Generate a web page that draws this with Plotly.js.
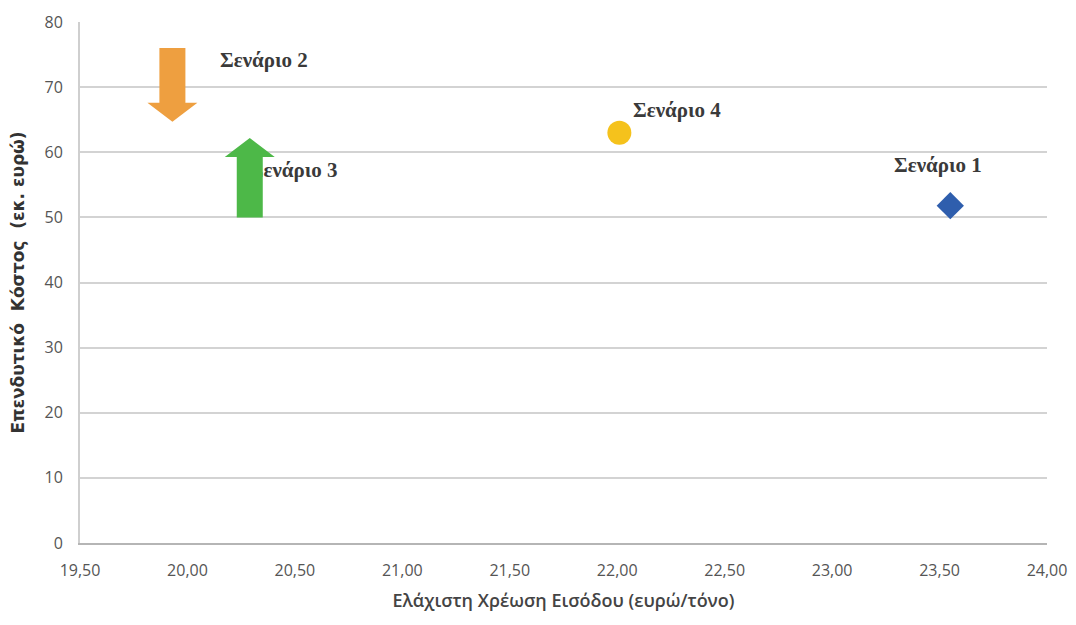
<!DOCTYPE html>
<html>
<head>
<meta charset="utf-8">
<script src="https://cdn.plot.ly/plotly-3.0.1.min.js"></script>
<style>html,body{margin:0;padding:0;background:#fff;}#chart{width:1076px;height:625px;}</style>
</head>
<body>
<div id="chart"></div>
<script>
// ---- data ----
const scenarios = ['Σενάριο 1', 'Σενάριο 2', 'Σενάριο 3', 'Σενάριο 4'];
const charge = [23.55, 19.93, 20.29, 22.01];   // Ελάχιστη Χρέωση Εισόδου (ευρώ/τόνο)
const cost = [51.8, 70.0, 56.0, 63.0];          // Επενδυτικό Κόστος (εκ. ευρώ)
// arrow-shaped markers (scenarios 2 and 3): start and tip of arrow
const arrowScenario = ['Σενάριο 2', 'Σενάριο 3'];
const arrowCharge = [19.93, 20.29];
const arrowStart = [76.0, 50.0];
const arrowTip = [64.7, 62.2];
const xTickVals = [19.5, 20, 20.5, 21, 21.5, 22, 22.5, 23, 23.5, 24];
const yTickVals = [0, 10, 20, 30, 40, 50, 60, 70, 80];

// ---- layout constants ----
const W = 1076, H = 625;
const M = {l: 80, r: 29, t: 22, b: 82};
const xRange = [19.5, 24], yRange = [0, 80];
const pxX = (xRange[1] - xRange[0]) / (W - M.l - M.r);
const pxY = (yRange[1] - yRange[0]) / (H - M.t - M.b);

const arrowColors = ['#EE9F40', '#4DB848'];
const shaftHalf = 13, headHalf = 25, headLen = 19; // px

function arrowPolygon(x, y0, y1) {
  const dir = Math.sign(y1 - y0);
  const s = shaftHalf * pxX, h = headHalf * pxX, hl = headLen * pxY * dir;
  const yb = y1 - hl;
  return {
    x: [x - s, x + s, x + s, x + h, x, x - h, x - s, x - s],
    y: [y0, y0, yb, yb, y1, yb, yb, y0]
  };
}

const idx = n => scenarios.indexOf(n);
const labelFont = {family: 'Liberation Serif, serif', size: 21, color: '#3a3a3a', weight: 'bold'};

const traces = [];
// label of scenario 3 drawn beneath its arrow
traces.push({
  type: 'scatter', mode: 'text',
  x: [charge[idx('Σενάριο 3')]], y: [cost[idx('Σενάριο 3')] + 1],
  text: ['<b>Σενάριο 3</b>'], textposition: 'middle right',
  textfont: labelFont, hoverinfo: 'skip', showlegend: false, cliponaxis: false
});
// arrows
arrowScenario.forEach((n, i) => {
  const p = arrowPolygon(arrowCharge[i], arrowStart[i], arrowTip[i]);
  traces.push({
    type: 'scatter', mode: 'lines', x: p.x, y: p.y, fill: 'toself',
    fillcolor: arrowColors[i], line: {width: 0, color: arrowColors[i]},
    name: n, showlegend: false, hoverinfo: 'name'
  });
});
// scenario 1: diamond
traces.push({
  type: 'scatter', mode: 'markers',
  x: [charge[idx('Σενάριο 1')]], y: [cost[idx('Σενάριο 1')]],
  marker: {symbol: 'diamond', size: 21, color: '#2F5EAD', line: {width: 0}},
  name: 'Σενάριο 1', showlegend: false
});
// scenario 4: circle
traces.push({
  type: 'scatter', mode: 'markers',
  x: [charge[idx('Σενάριο 4')]], y: [cost[idx('Σενάριο 4')]],
  marker: {symbol: 'circle', size: 24, color: '#F5C21C', line: {width: 0}},
  name: 'Σενάριο 4', showlegend: false
});

const annotations = [
  {n: 'Σενάριο 1', xanchor: 'center', xshift: -12, yshift: 41},
  {n: 'Σενάριο 2', xanchor: 'left', xshift: 46, yshift: 27},
  {n: 'Σενάριο 4', xanchor: 'left', xshift: 12, yshift: 23}
].map(a => ({
  x: charge[idx(a.n)], y: cost[idx(a.n)], xref: 'x', yref: 'y',
  text: '<b>' + a.n + '</b>', showarrow: false,
  xanchor: a.xanchor, yanchor: 'middle', xshift: a.xshift, yshift: a.yshift,
  font: labelFont
}));

const tickFont = {family: 'Open Sans, sans-serif', size: 16, color: '#555555'};

const layout = {
  width: W, height: H,
  margin: M,
  paper_bgcolor: '#ffffff', plot_bgcolor: '#ffffff',
  separators: ',.',
  showlegend: false,
  xaxis: {
    range: xRange, tickvals: xTickVals, tickformat: '.2f',
    showgrid: false, zeroline: false,
    showline: true, linecolor: '#b5b5b5', linewidth: 2,
    ticks: '', ticklabelstandoff: 12, tickfont: tickFont,
    title: {text: 'Ελάχιστη Χρέωση Εισόδου (ευρώ/τόνο)', standoff: 14,
            font: {family: 'Open Sans, sans-serif', size: 18, color: '#444444', weight: 600}}
  },
  yaxis: {
    range: yRange, tickvals: yTickVals,
    showgrid: true, gridcolor: '#d3d3d3', gridwidth: 2,
    zeroline: false,
    showline: true, linecolor: '#cfcfcf', linewidth: 2,
    ticks: '', ticklabelstandoff: 12, tickfont: tickFont,
    title: {text: '<b>Επενδυτικό  Κόστος  (εκ. ευρώ)</b>', standoff: 16,
            font: {family: 'DejaVu Sans, sans-serif', size: 17, color: '#333333'}}
  },
  annotations: annotations
};

Plotly.newPlot('chart', traces, layout, {displayModeBar: false, staticPlot: true});
</script>
</body>
</html>
